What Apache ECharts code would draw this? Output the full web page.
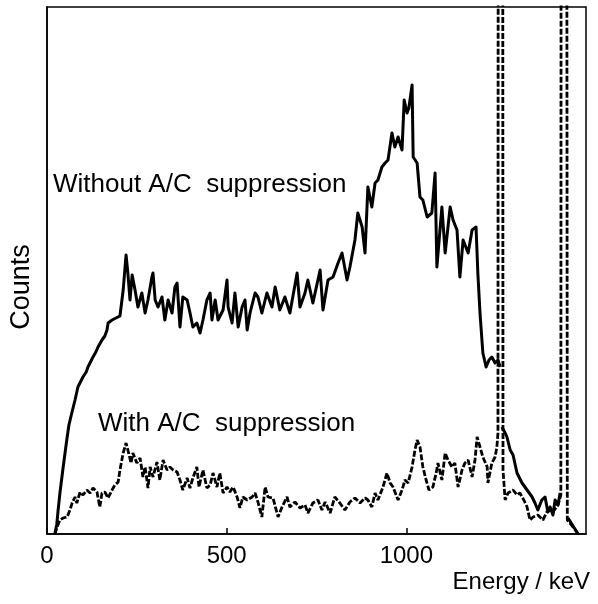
<!DOCTYPE html>
<html>
<head>
<meta charset="utf-8">
<script src="https://cdn.jsdelivr.net/npm/echarts@6/dist/echarts.min.js"></script>
<style>
html,body{margin:0;padding:0;background:#fff;}
#chart{width:598px;height:604px;}
</style>
</head>
<body>
<div id="chart"></div>
<script>
// Energy (keV) vs counts (arbitrary units); '-' marks a break where the line leaves the frame
var xTicks = [0, 500, 1000];

var withoutAC = [
[22,1],[27,9],[31,24],[36,41],[45,67],[55,94],[61,109],[69,121],[78,134],[86,147],
[100,157],[109,162],[114,167],[128,177],[136,182],[142,187],[153,194],[161,198],[167,204],[170,211],
[181,214],[192,216],[203,218],[212,244],[220,279],[225,261],[231,234],[237,259],[245,244],[253,227],
[264,241],[273,221],[281,234],[292,257],[295,261],[301,234],[309,227],[320,237],[328,214],[337,234],
[348,221],[356,247],[362,251],[370,207],[378,237],[390,234],[398,221],[406,207],[417,211],[426,201],
[434,214],[445,234],[454,241],[459,214],[468,234],[476,214],[490,224],[501,254],[504,227],[515,211],
[523,241],[532,207],[543,227],[551,234],[557,204],[565,221],[579,241],[587,237],[598,221],[612,241],
[626,227],[635,247],[648,224],[662,237],[676,221],[696,261],[704,227],[718,241],[726,254],[740,231],
[760,264],[768,224],[782,254],[796,257],[810,271],[821,281],[835,254],[843,267],[857,294],[865,321],
[877,307],[885,281],[893,347],[904,327],[913,351],[921,354],[932,367],[941,371],[949,374],[960,401],
[968,387],[977,397],[988,384],[994,434],[1002,421],[1007,426],[1016,449],[1019,377],[1030,371],[1038,337],
[1046,334],[1058,317],[1071,321],[1080,361],[1085,267],[1099,327],[1108,281],[1122,327],[1130,314],[1141,304],
[1149,257],[1158,294],[1172,281],[1183,304],[1194,307],[1199,261],[1205,221],[1213,181],[1222,167],[1230,174],
[1238,177],[1247,171],[1255,174],[1261,167],[1263,'-'],
[1266,107],[1275,101],[1280,97],[1289,84],[1297,79],[1308,61],[1322,51],[1336,44],[1350,37],[1358,31],
[1366,24],[1377,34],[1386,37],[1394,22],[1400,27],[1408,19],[1414,34],[1422,29],[1428,41],[1435,'-'],
[1450,16],[1464,8],[1478,0]
];

var withAC = [
[22,0],[28,7],[36,14],[45,16],[56,17],[64,24],[70,31],[78,37],[83,31],[92,42],
[100,39],[111,44],[120,41],[128,46],[139,42],[147,27],[153,41],[161,42],[170,36],[181,44],
[189,49],[198,52],[203,64],[212,81],[220,91],[225,84],[234,71],[239,81],[250,71],[259,76],
[267,57],[273,67],[281,46],[287,67],[295,57],[306,72],[314,54],[323,74],[334,64],[342,67],
[351,64],[362,62],[370,54],[378,44],[390,56],[398,46],[406,56],[417,67],[423,47],[434,64],
[445,46],[454,49],[462,61],[473,47],[481,61],[490,41],[501,47],[509,42],[518,47],[529,37],
[537,26],[545,37],[557,34],[571,37],[579,41],[587,32],[598,17],[607,47],[615,37],[629,36],
[643,17],[654,27],[668,37],[676,27],[690,32],[704,26],[718,29],[726,21],[740,31],[754,34],
[765,24],[774,32],[788,21],[801,37],[815,31],[829,24],[843,32],[857,36],[871,31],[885,36],
[893,34],[904,27],[913,41],[921,34],[935,47],[946,61],[955,51],[963,47],[977,34],[988,44],
[996,54],[1005,51],[1016,67],[1024,84],[1030,94],[1038,87],[1046,67],[1055,54],[1063,44],[1074,47],
[1083,61],[1088,71],[1099,54],[1108,81],[1116,74],[1127,67],[1135,71],[1144,47],[1155,64],[1163,71],
[1172,74],[1183,57],[1191,74],[1197,97],[1205,87],[1213,77],[1225,67],[1227,51],[1238,71],[1247,77],
[1252,87],[1255,101],[1256,900],[1268,900],[1269,64],[1275,34],[1283,41],[1297,44],[1308,39],[1316,41],
[1327,34],[1336,27],[1344,14],[1353,17],[1366,19],[1380,14],[1394,24],[1408,22],[1422,29],[1430,39],
[1431,900],[1446,900],[1448,14],[1464,7],[1478,0]
];

var FONT = '"Liberation Sans", Arial, sans-serif';
var chart = echarts.init(document.getElementById('chart'), null, {renderer: 'canvas'});
chart.setOption({
  animation: false,
  backgroundColor: '#fff',
  grid: {left: 47, right: 12, top: 7, bottom: 70, show: true, borderColor: '#000', borderWidth: 1.5, containLabel: false},
  xAxis: {
    type: 'value', min: 0, max: 1500, interval: 500,
    axisLine: {show: true, lineStyle: {color: '#000', width: 1.5}},
    axisTick: {show: true, inside: true, length: 6, lineStyle: {color: '#000', width: 1.5},
      customValues: xTicks},
    axisLabel: {show: true, color: '#000', fontSize: 24, fontFamily: FONT, margin: 10,
      customValues: xTicks, formatter: function (v) { return String(v); }},
    splitLine: {show: false}
  },
  yAxis: {
    type: 'value', min: 0, max: 527,
    axisLine: {show: true, lineStyle: {color: '#000', width: 1.5}},
    axisTick: {show: false}, axisLabel: {show: false}, splitLine: {show: false}
  },
  series: [
    {type: 'line', data: withoutAC, symbol: 'none', showSymbol: false, clip: true,
      lineStyle: {color: '#000', width: 3, join: 'round'}, z: 3},
    {type: 'line', data: withAC, symbol: 'none', showSymbol: false, clip: true,
      lineStyle: {color: '#000', width: 2.8, type: [6, 2]}, z: 4}
  ],
  graphic: [
    {type: 'text', left: 53, top: 172, style: {text: 'Without A/C  suppression', fill: '#000', font: '26px ' + FONT}},
    {type: 'text', left: 98, top: 411, style: {text: 'With A/C  suppression', fill: '#000', font: '26px ' + FONT}},
    {type: 'text', x: 22, y: 287, rotation: Math.PI / 2,
      style: {text: 'Counts', fill: '#000', font: '27px ' + FONT, align: 'center', verticalAlign: 'middle'}},
    {type: 'text', x: 590, y: 582,
      style: {text: 'Energy / keV', fill: '#000', font: '24px ' + FONT, align: 'right', verticalAlign: 'middle'}}
  ]
});
</script>
</body>
</html>
